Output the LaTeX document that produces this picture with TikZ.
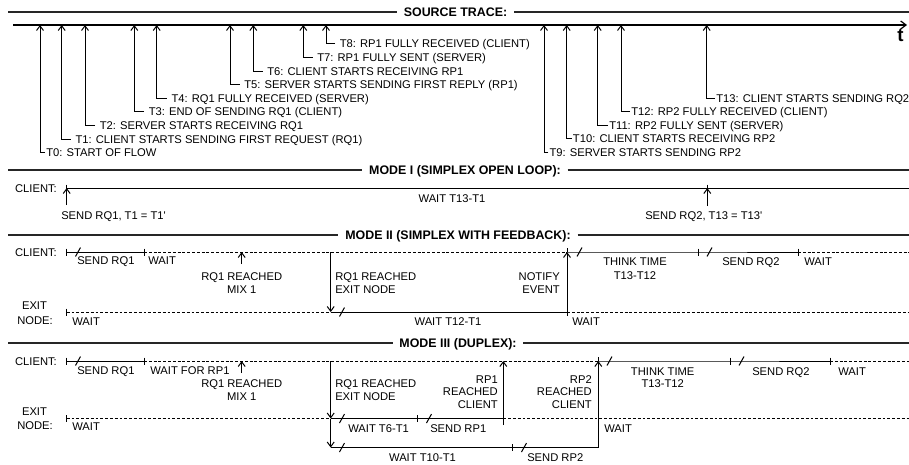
\documentclass[tikz,border=0pt]{standalone}
\usepackage{fontspec}
\setmainfont{Liberation Sans}
\usetikzlibrary{arrows.meta}
\tikzset{
  lbl/.style={font=\fontsize{8.4}{10}\selectfont, inner sep=0pt, text height=6pt, text depth=0pt},
  ttl/.style={font=\bfseries\fontsize{9.3}{11}\selectfont, inner sep=0pt, inner xsep=5pt, text height=6.7pt, text depth=0pt, fill=white},
  sepline/.style={line width=1.1pt, draw=black!85},
  tl/.style={line width=0.75pt},
  dsh/.style={line width=0.7pt, dash pattern=on 2.2pt off 1.4pt},
  arr/.style={line width=0.75pt, -{Straight Barb[length=3.5pt,width=5.2pt]}},
  gapa/.style={lbl, anchor=west, inner xsep=3.4pt},
  gapb/.style={lbl, anchor=west, inner xsep=0.75pt},
}
\newcommand\tickmark[2]{\draw[tl] (#1,#2-3.5) -- (#1,#2+3.5);}
\newcommand\brkmark[2]{\draw[tl] (#1-2.5,#2+4.5) -- (#1+2.5,#2-4.5);}
% #1 name, #2 x of vertical, #3 x of line end, #4 y, #5 style, #6 text
\newcommand\tev[6]{%
  \node[#5] (#1) at (#3,#4) {#6};
  \coordinate (#1a) at (#2,25);
  \draw[arr] (#1.west) -| (#1a);}
\begin{document}
\begin{tikzpicture}[x=0.75pt,y=-0.75pt]
\useasboundingbox (0,0) rectangle (909,464);

% ---------------- SOURCE TRACE ----------------
\coordinate (stL) at (8,12);
\coordinate (stR) at (909,12);
\node[ttl] (st) at (455.5,12) {SOURCE TRACE:};
\draw[sepline] (stL) -- (st.west);
\draw[sepline] (st.east) -- (stR);

\coordinate (ax0) at (13,25);
\coordinate (ax1) at (907,25);
\draw[line width=0.9pt, -{Straight Barb[length=4pt,width=6pt]}] (ax0) -- (ax1);
\node[font=\bfseries\fontsize{14}{14}\selectfont, inner sep=0pt] (tlab) at (900.5,35.5) {t};

\tev{t0}{40}{45}{152.5}{gapb}{T0: START OF FLOW}
\tev{t1}{61.7}{70.7}{139}{gapa}{T1: CLIENT STARTS SENDING FIRST REQUEST (RQ1)}
\tev{t2}{85}{95}{125.5}{gapa}{T2: SERVER STARTS RECEIVING RQ1}
\tev{t3}{134.3}{144}{111.5}{gapa}{T3: END OF SENDING RQ1 (CLIENT)}
\tev{t4}{156.7}{166.7}{98}{gapa}{T4: RQ1 FULLY RECEIVED (SERVER)}
\tev{t5}{230}{239.5}{84.5}{gapa}{T5: SERVER STARTS SENDING FIRST REPLY (RP1)}
\tev{t6}{253.3}{262.5}{71}{gapa}{T6: CLIENT STARTS RECEIVING RP1}
\tev{t7}{303.3}{312.5}{57.5}{gapa}{T7: RP1 FULLY SENT (SERVER)}
\tev{t8}{326}{335}{43.5}{gapa}{T8: RP1 FULLY RECEIVED (CLIENT)}
\tev{t9}{544}{548.3}{152}{gapb}{T9: SERVER STARTS SENDING RP2}
\tev{t10}{566.7}{571.7}{138.5}{gapb}{T10: CLIENT STARTS RECEIVING RP2}
\tev{t11}{597.7}{608}{125.5}{gapb}{T11: RP2 FULLY SENT (SERVER)}
\tev{t12}{621}{630}{111.5}{gapb}{T12: RP2 FULLY RECEIVED (CLIENT)}
\tev{t13}{706.7}{715}{98}{gapb}{T13: CLIENT STARTS SENDING RQ2}

% ---------------- MODE I ----------------
\coordinate (m1L) at (8,170);
\coordinate (m1R) at (909,170);
\node[ttl] (m1t) at (465,170) {MODE I (SIMPLEX OPEN LOOP):};
\draw[sepline] (m1L) -- (m1t.west);
\draw[sepline] (m1t.east) -- (m1R);

\node[lbl] (c1) at (36,188) {CLIENT:};
\coordinate (c1s) at (66.7,188);
\coordinate (c1e) at (909,188);
\draw[tl] (c1s) -- (c1e);
\tickmark{66.7}{188}
\tickmark{707.3}{188}
\coordinate (s1b) at (66.7,205);
\draw[arr] (s1b) -- (c1s);
\node[lbl,anchor=west] (s1) at (61,215) {SEND RQ1, T1 = T1\textquotesingle};
\node[lbl] (w1) at (452,198) {WAIT T13-T1};
\coordinate (s2t) at (707.3,188);
\coordinate (s2b) at (707.3,206);
\draw[arr] (s2b) -- (s2t);
\node[lbl,anchor=west] (s2) at (645,215) {SEND RQ2, T13 = T13\textquotesingle};

% ---------------- MODE II ----------------
\coordinate (m2L) at (8,235);
\coordinate (m2R) at (909,235);
\node[ttl] (m2t) at (458,235) {MODE II (SIMPLEX WITH FEEDBACK):};
\draw[sepline] (m2L) -- (m2t.west);
\draw[sepline] (m2t.east) -- (m2R);

\node[lbl] (c2) at (36,252) {CLIENT:};
\node[lbl] (e2x) at (34.5,305) {EXIT};
\node[lbl] (e2y) at (35,320) {NODE:};

\coordinate (c2a) at (66.7,252);
\coordinate (c2b) at (144,252);
\coordinate (c2c) at (567,252);
\coordinate (c2d) at (698,252);
\coordinate (c2e) at (798,252);
\coordinate (c2f) at (909,252);
\draw[tl] (c2a) -- (c2b);
\draw[dsh] (c2b) -- (c2c);
\draw[tl] (c2c) -- (c2d) -- (c2e);
\draw[dsh] (c2e) -- (c2f);
\tickmark{66.7}{252}
\tickmark{144}{252}
\draw[tl] (567,252) -- (567,248);
\tickmark{698}{252}
\tickmark{798}{252}
\brkmark{78}{252}
\brkmark{579.5}{252}
\brkmark{709.5}{252}

\node[lbl,anchor=west] (sq2) at (77,260.5) {SEND RQ1};
\node[lbl,anchor=west] (wt2) at (148,260.5) {WAIT};
\coordinate (mx2b) at (241.7,264);
\coordinate (mx2t) at (241.7,252);
\draw[arr] (mx2b) -- (mx2t);
\node[lbl] (mx2a) at (241.7,276.5) {RQ1 REACHED};
\node[lbl] (mx2c) at (241.7,289) {MIX 1};

\coordinate (e2s) at (66.7,312);
\coordinate (e2m) at (330.7,312);
\coordinate (e2n) at (567,312);
\coordinate (e2f) at (909,312);
\draw[dsh] (e2s) -- (e2m);
\draw[tl] (e2m) -- (e2n);
\draw[dsh] (e2n) -- (e2f);
\tickmark{66.7}{312}
\brkmark{342}{312}
\draw[arr] (c2a -| e2m) -- (e2m);
\node[lbl,anchor=west] (rx2a) at (335,276.5) {RQ1 REACHED};
\node[lbl,anchor=west] (rx2b) at (335,289) {EXIT NODE};

\coordinate (nt2b) at (567,316);
\draw[arr] (nt2b) -- (c2c);
\node[lbl,anchor=east] (nt2a) at (560,276.5) {NOTIFY};
\node[lbl,anchor=east] (nt2c) at (560,289) {EVENT};

\node[lbl,anchor=west] (we2a) at (72,321) {WAIT};
\node[lbl] (we2b) at (448,321) {WAIT T12-T1};
\node[lbl,anchor=west] (we2c) at (572,321) {WAIT};

\node[lbl] (th2a) at (635,261.5) {THINK TIME};
\node[lbl] (th2b) at (635,275) {T13-T12};
\node[lbl,anchor=west] (sr2) at (722,261.5) {SEND RQ2};
\node[lbl,anchor=west] (wr2) at (804,261.5) {WAIT};

% ---------------- MODE III ----------------
\coordinate (m3L) at (8,343);
\coordinate (m3R) at (909,343);
\node[ttl] (m3t) at (458,343) {MODE III (DUPLEX):};
\draw[sepline] (m3L) -- (m3t.west);
\draw[sepline] (m3t.east) -- (m3R);

\node[lbl] (c3) at (36,361) {CLIENT:};
\node[lbl] (e3x) at (34.5,411.5) {EXIT};
\node[lbl] (e3y) at (35,425) {NODE:};

\coordinate (c3a) at (66.7,361);
\coordinate (c3b) at (144,361);
\coordinate (c3c) at (598.3,361);
\coordinate (c3d) at (730,361);
\coordinate (c3e) at (830,361);
\coordinate (c3f) at (909,361);
\draw[tl] (c3a) -- (c3b);
\draw[dsh] (c3b) -- (c3c);
\draw[tl] (c3c) -- (c3d) -- (c3e);
\draw[dsh] (c3e) -- (c3f);
\tickmark{66.7}{361}
\tickmark{144}{361}
\draw[tl] (598.3,361) -- (598.3,357);
\tickmark{730}{361}
\tickmark{830}{361}
\brkmark{78}{361}
\brkmark{609.5}{361}
\brkmark{741.5}{361}

\node[lbl,anchor=west] (sq3) at (77,370) {SEND RQ1};
\node[lbl,anchor=west] (wt3) at (150,370) {WAIT FOR RP1};
\coordinate (mx3b) at (241.7,373);
\coordinate (mx3t) at (241.7,361);
\draw[arr] (mx3b) -- (mx3t);
\node[lbl] (mx3a) at (241.7,383.5) {RQ1 REACHED};
\node[lbl] (mx3c) at (241.7,396.5) {MIX 1};

\coordinate (e3s) at (66.7,418.5);
\coordinate (e3m) at (330.7,418.5);
\coordinate (e3r) at (503.3,418.5);
\coordinate (e3f) at (909,418.5);
\draw[dsh] (e3s) -- (e3m);
\draw[tl] (e3m) -- (e3r);
\draw[dsh] (e3r) -- (e3f);
\tickmark{66.7}{418.5}
\tickmark{417}{418.5}
\brkmark{342}{418.5}
\brkmark{429}{418.5}

\coordinate (l3m) at (330.7,447.5);
\coordinate (l3r) at (598.3,447.5);
\draw[tl] (l3m) -- (l3r);
\tickmark{512}{447.5}
\brkmark{342}{447.5}
\brkmark{524}{447.5}

\draw[arr] (c3a -| e3m) -- (e3m);
\draw[arr] (e3m) -- (l3m);
\node[lbl,anchor=west] (rx3a) at (335,383.5) {RQ1 REACHED};
\node[lbl,anchor=west] (rx3b) at (335,396.5) {EXIT NODE};

\coordinate (rp1b) at (503.3,425);
\coordinate (rp1t) at (503.3,361);
\draw[arr] (rp1b) -- (rp1t);
\node[lbl,anchor=east] (rp1x) at (498,379) {RP1};
\node[lbl,anchor=east] (rp1y) at (498,391.5) {REACHED};
\node[lbl,anchor=east] (rp1z) at (498,404) {CLIENT};

\draw[arr] (l3r) -- (c3c);
\node[lbl,anchor=east] (rp2x) at (592,379) {RP2};
\node[lbl,anchor=east] (rp2y) at (592,391.5) {REACHED};
\node[lbl,anchor=east] (rp2z) at (592,404) {CLIENT};

\node[lbl,anchor=west] (we3a) at (72,426) {WAIT};
\node[lbl,anchor=west] (we3b) at (348,428.5) {WAIT T6-T1};
\node[lbl,anchor=west] (we3c) at (430,428.5) {SEND RP1};
\node[lbl,anchor=west] (we3d) at (604,428.5) {WAIT};
\node[lbl] (we3e) at (422.5,457) {WAIT T10-T1};
\node[lbl,anchor=west] (we3f) at (527,457) {SEND RP2};

\node[lbl] (th3a) at (662.7,371) {THINK TIME};
\node[lbl] (th3b) at (662.7,383.5) {T13-T12};
\node[lbl,anchor=west] (sr3) at (752,371) {SEND RQ2};
\node[lbl,anchor=west] (wr3) at (838,371) {WAIT};
\end{tikzpicture}
\end{document}
